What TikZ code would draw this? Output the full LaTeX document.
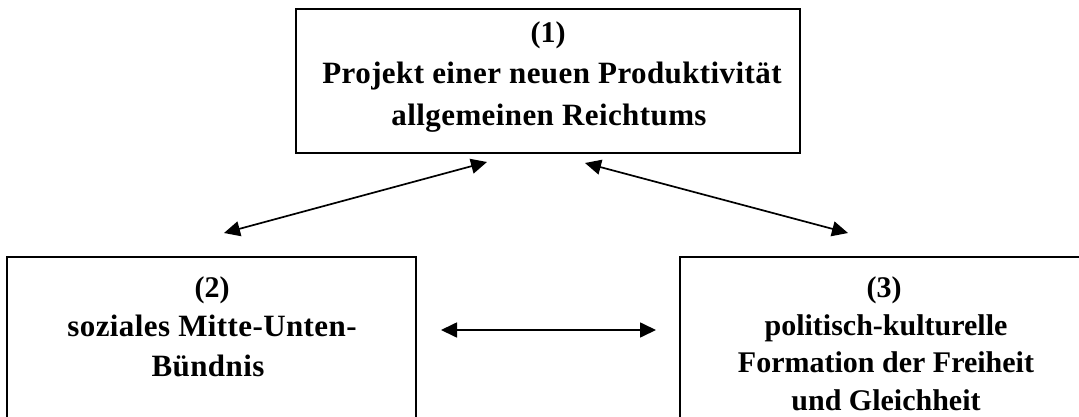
\documentclass[tikz,border=0pt]{standalone}
\usepackage{fontspec}
\setmainfont{Liberation Serif}
\usetikzlibrary{arrows.meta}
\begin{document}
\begin{tikzpicture}[x=1pt,y=-1pt,
  box/.style={draw, line width=1.9pt, rectangle, inner sep=0pt},
  lbl/.style={font=\fontsize{30}{36}\selectfont\bfseries, anchor=base, inner sep=0pt},
  wide/.style={font=\fontsize{31}{36}\selectfont\bfseries\addfontfeatures{LetterSpace=1.3}},
  link/.style={line width=1.7pt, {Triangle[length=16pt,width=15pt]}-{Triangle[length=16pt,width=15pt]}}]
\useasboundingbox (0,0) rectangle (1079,417);
\clip (0,0) rectangle (1079,417);
% boxes
\node[box, minimum width=504pt, minimum height=144pt] (b1) at (548,81) {};
\node[box, minimum width=409pt, minimum height=183pt] (b2) at (211.5,348.5) {};
\node[box, minimum width=420pt, minimum height=183pt] (b3) at (890,348.5) {};
% box 1 text
\node[lbl] (t1a) at (548,43) {(1)};
\node[lbl, wide] (t1b) at (552,84) {Projekt einer neuen Produktivität};
\node[lbl, wide] (t1c) at (549,126) {allgemeinen Reichtums};
% box 2 text
\node[lbl] (t2a) at (212,297) {(2)};
\node[lbl, wide] (t2b) at (212,336) {soziales Mitte-Unten-};
\node[lbl, wide] (t2c) at (208,376) {Bündnis};
% box 3 text
\node[lbl] (t3a) at (884,297) {(3)};
\node[lbl] (t3b) at (886,335) {politisch-kulturelle};
\node[lbl] (t3c) at (886,372) {Formation der Freiheit};
\node[lbl] (t3d) at (886,410) {und Gleichheit};
% connector end points
\coordinate (l1) at (224,233);
\coordinate (l2) at (487,162);
\coordinate (r1) at (585,163);
\coordinate (r2) at (848,233);
\coordinate (h1) at (441,330);
\coordinate (h2) at (656,330);
\draw[link] (l1) -- (l2);
\draw[link] (r1) -- (r2);
\draw[link] (h1) -- (h2);
\end{tikzpicture}
\end{document}
